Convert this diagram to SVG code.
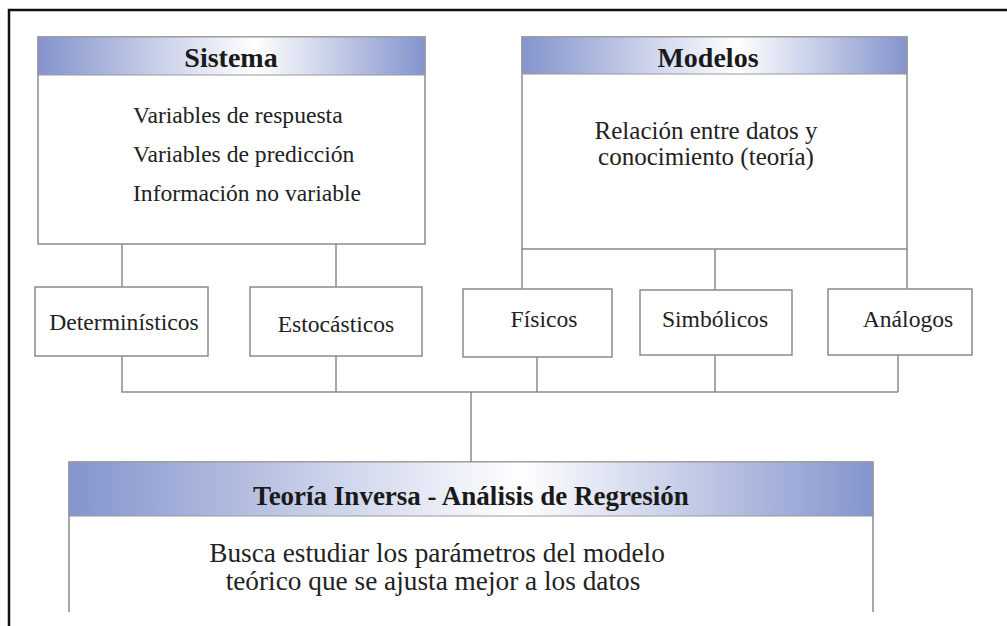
<svg xmlns="http://www.w3.org/2000/svg" width="1007" height="626" viewBox="0 0 1007 626">
<defs>
<linearGradient id="hg" x1="0" y1="0" x2="1" y2="0">
<stop offset="0" stop-color="#8494cd"/>
<stop offset="0.56" stop-color="#ffffff"/>
<stop offset="1" stop-color="#8494cd"/>
</linearGradient>
<style>
.box{fill:#ffffff;stroke:#8a8a8a;stroke-width:1.5}
.hdr{fill:url(#hg);stroke:#9a9a9a;stroke-width:1}
.ttl{font-family:"Liberation Serif",serif;font-weight:bold;font-size:28px;fill:#1a1a1a;text-anchor:middle}
.txt{font-family:"Liberation Serif",serif;font-size:23.6px;fill:#222222}
.mid{text-anchor:middle}
.con{stroke:#8a8a8a;stroke-width:1.5;fill:none}
.frame{stroke:#111111;stroke-width:2.5;fill:none}
</style>
</defs>
<rect width="1007" height="626" fill="#ffffff"/>
<path class="frame" d="M9,626 V10 H1007"/>

<g id="connectors">
<path class="con" d="M122,244 V287 M336,244 V287"/>
<path class="con" d="M522,249 V289 M715,249 V290 M907,249 V289"/>
<path class="con" d="M122,356 V392 H898 M336,356 V392 M537,357 V392 M715,355 V392 M898,355 V392"/>
<path class="con" d="M471,392 V462"/>
</g>

<g id="sistema">
<rect class="box" x="38" y="37" width="387" height="207"/>
<rect class="hdr" x="38" y="37" width="387" height="38"/>
<text class="ttl" x="231" y="67">Sistema</text>
<text class="txt" x="133" y="123">Variables de respuesta</text>
<text class="txt" x="133" y="162">Variables de predicción</text>
<text class="txt" x="133" y="201">Información no variable</text>
</g>

<g id="modelos">
<rect class="box" x="522" y="37" width="385" height="212"/>
<rect class="hdr" x="522" y="37" width="385" height="37"/>
<text class="ttl" x="708" y="67">Modelos</text>
<text class="txt mid" x="706" y="139" style="font-size:25px">Relación entre datos y</text>
<text class="txt mid" x="706" y="165" style="font-size:25px">conocimiento (teoría)</text>
</g>

<g id="deterministicos">
<rect class="box" x="35" y="287" width="173" height="69"/>
<text class="txt mid" x="124" y="330">Determinísticos</text>
</g>
<g id="estocasticos">
<rect class="box" x="250" y="287" width="172" height="69"/>
<text class="txt mid" x="336" y="332">Estocásticos</text>
</g>
<g id="fisicos">
<rect class="box" x="463" y="289" width="149" height="68"/>
<text class="txt mid" x="544" y="327">Físicos</text>
</g>
<g id="simbolicos">
<rect class="box" x="640" y="290" width="152" height="65"/>
<text class="txt mid" x="715" y="327">Simbólicos</text>
</g>
<g id="analogos">
<rect class="box" x="828" y="289" width="144" height="66"/>
<text class="txt mid" x="908" y="327">Análogos</text>
</g>

<g id="teoria">
<path class="box" d="M69,612 V462 H873 V612"/>
<rect class="hdr" x="69" y="462" width="804" height="54"/>
<text class="ttl" x="471" y="505" style="font-size:27px">Teoría Inversa - Análisis de Regresión</text>
<text class="txt mid" x="437" y="562" style="font-size:27.3px">Busca estudiar los parámetros del modelo</text>
<text class="txt mid" x="433" y="590" style="font-size:27.3px">teórico que se ajusta mejor a los datos</text>
</g>
</svg>
